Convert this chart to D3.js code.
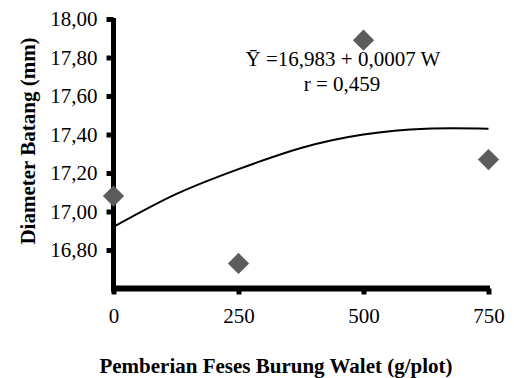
<!DOCTYPE html>
<html>
  <head>
    <script src="https://d3js.org/d3.v7.min.js"></script>
    <style>
      body { margin: 0; background: #fff; }
      text { font-family: "Liberation Serif", "Times New Roman", serif; fill: #000; }
    </style>
  </head>
  <body>
    <script>
      // observed means
      const dosis = [0, 250, 500, 750];
      const diameter = [17.08, 16.73, 17.89, 17.27];

      // trend line
      const trendW = [0, 125, 250, 375, 500, 625, 750];
      const trendY = [16.92, 17.09, 17.22, 17.33, 17.40, 17.43, 17.43];

      const xTicks = [0, 250, 500, 750];
      const yTicks = [16.8, 17.0, 17.2, 17.4, 17.6, 17.8, 18.0];

      const width = 514;
      const height = 378;

      const x = d3.scaleLinear().domain([0, 750]).range([113.5, 488.5]);
      const y = d3.scaleLinear().domain([16.6, 18.0]).range([288.5, 19]);

      const svg = d3.select('body')
        .append('svg')
        .attr('width', width)
        .attr('height', height);

      const fmt = d => d3.format('.2f')(d).replace('.', ',');

      // y axis
      const yAxis = svg.append('g')
        .attr('transform', `translate(${x(0)}, 0)`)
        .call(d3.axisLeft(y).tickValues(yTicks).tickFormat(fmt).tickSize(7).tickPadding(10));
      yAxis.select('.domain').remove();
      yAxis.selectAll('.tick line').attr('stroke', '#000').attr('stroke-width', 5);
      yAxis.selectAll('.tick text')
        .style('font-size', '21px')
        .attr('x', -16)
        .attr('dy', '0.33em');

      // x axis
      const xAxis = svg.append('g')
        .attr('transform', `translate(0, ${y(16.6)})`)
        .call(d3.axisBottom(x).tickValues(xTicks).tickFormat(d3.format('d')).tickSize(6).tickPadding(14));
      xAxis.select('.domain').remove();
      xAxis.selectAll('.tick line').attr('stroke', '#000').attr('stroke-width', 5);
      xAxis.selectAll('.tick text').style('font-size', '21px');

      // axis lines (thick)
      svg.append('line')
        .attr('x1', x(0)).attr('x2', x(0))
        .attr('y1', y(18.0) - 1).attr('y2', y(16.6) + 3)
        .attr('stroke', '#000').attr('stroke-width', 5);
      svg.append('line')
        .attr('x1', x(0) - 2.5).attr('x2', x(750) + 1.5)
        .attr('y1', y(16.6)).attr('y2', y(16.6))
        .attr('stroke', '#000').attr('stroke-width', 6);

      // trend line
      const line = d3.line()
        .x((d, i) => x(trendW[i]))
        .y(d => y(d))
        .curve(d3.curveNatural);
      svg.append('path')
        .datum(trendY)
        .attr('d', line)
        .attr('fill', 'none')
        .attr('stroke', '#000')
        .attr('stroke-width', 2);

      // points
      svg.selectAll('.pt')
        .data(diameter)
        .enter()
        .append('path')
        .attr('class', 'pt')
        .attr('d', d3.symbol().type(d3.symbolSquare).size(225))
        .attr('transform', (d, i) => `translate(${x(dosis[i])}, ${y(d)}) rotate(45)`)
        .attr('fill', '#5c5c5c');

      // equation
      svg.append('text')
        .attr('x', 343).attr('y', 66)
        .attr('text-anchor', 'middle')
        .style('font-size', '21px')
        .text('Ȳ =16,983 + 0,0007 W');
      svg.append('text')
        .attr('x', 342).attr('y', 91)
        .attr('text-anchor', 'middle')
        .style('font-size', '21px')
        .text('r = 0,459');

      // axis titles
      svg.append('text')
        .attr('x', 276).attr('y', 373)
        .attr('text-anchor', 'middle')
        .style('font-size', '21px')
        .style('font-weight', 'bold')
        .text('Pemberian Feses Burung Walet (g/plot)');
      svg.append('text')
        .attr('transform', 'translate(35, 141) rotate(-90)')
        .attr('text-anchor', 'middle')
        .style('font-size', '21px')
        .style('font-weight', 'bold')
        .text('Diameter Batang (mm)');
    </script>
  </body>
</html>
